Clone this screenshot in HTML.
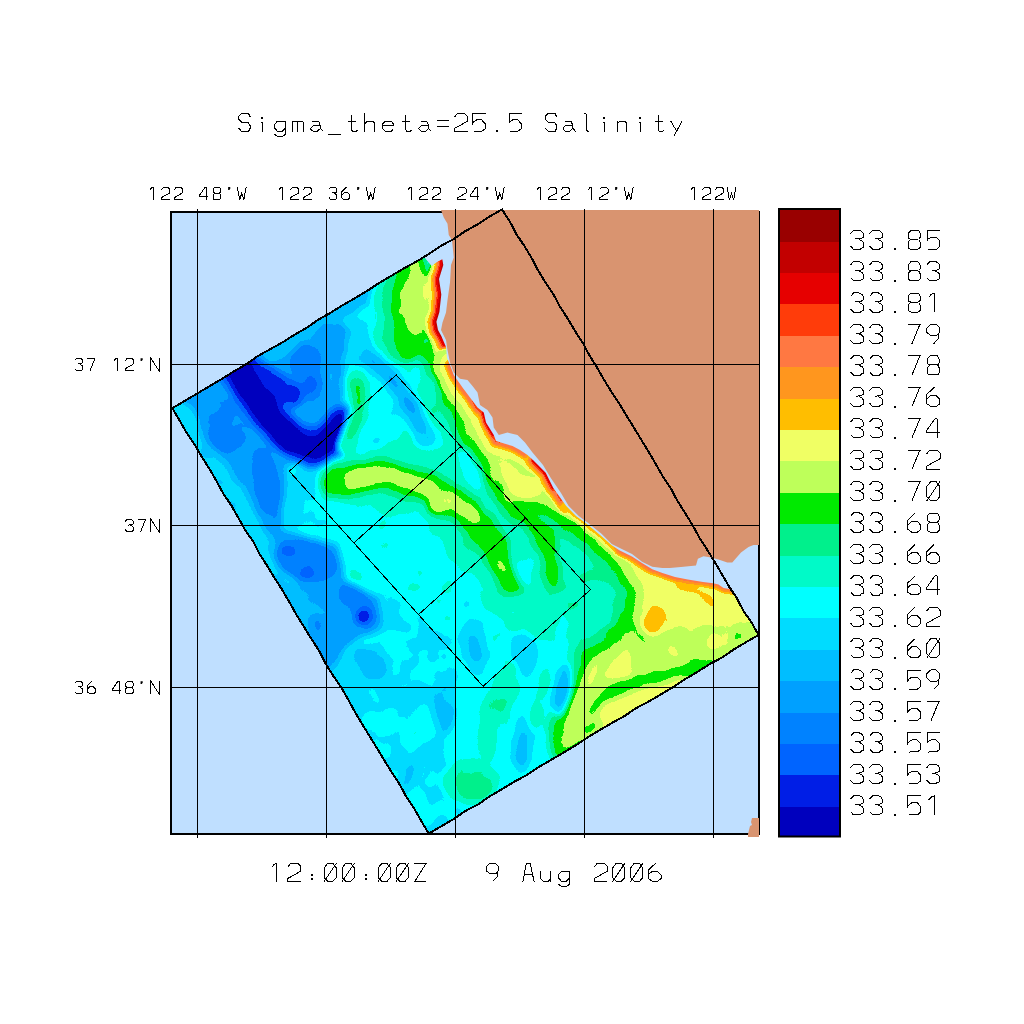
<!DOCTYPE html>
<html><head><meta charset="utf-8"><title>Sigma_theta=25.5 Salinity</title>
<style>html,body{margin:0;padding:0;background:#fff;font-family:"Liberation Sans",sans-serif;}svg{display:block}</style></head>
<body>
<svg width="1024" height="1024" viewBox="0 0 1024 1024" style="display:block">
<rect x="0" y="0" width="1024" height="1024" fill="#fff"/>
<rect x="171" y="212" width="588" height="622" fill="#bfdfff"/>
<defs><clipPath id="cr"><polygon points="172.30,408.20 502.00,209.50 758.50,635.00 428.70,833.60"/></clipPath></defs>
<defs><filter id="b3" filterUnits="userSpaceOnUse" x="150" y="190" width="640" height="670" color-interpolation-filters="sRGB"><feGaussianBlur stdDeviation="3.2"/></filter><filter id="b1" filterUnits="userSpaceOnUse" x="150" y="190" width="640" height="670" color-interpolation-filters="sRGB"><feGaussianBlur stdDeviation="1.6"/></filter><filter id="post" filterUnits="userSpaceOnUse" x="150" y="190" width="640" height="670" color-interpolation-filters="sRGB"><feTurbulence type="fractalNoise" baseFrequency="0.035" numOctaves="2" seed="7" result="n0"/><feColorMatrix in="n0" type="matrix" values="1 0 0 0 0  1 0 0 0 0  1 0 0 0 0  0 0 0 0 1" result="n1"/><feComposite in="SourceGraphic" in2="n1" operator="arithmetic" k1="0" k2="1" k3="0.10" k4="-0.05"/><feComponentTransfer><feFuncR type="discrete" tableValues="0.0000 0.0000 0.0000 0.0000 0.0000 0.0000 0.0000 0.0000 0.0000 0.0000 0.0000 0.7451 0.9412 1.0000 1.0000 1.0000 1.0000 0.9020 0.7608 0.6000"/><feFuncG type="discrete" tableValues="0.0000 0.1176 0.3922 0.5098 0.6275 0.7451 0.8627 1.0000 0.9804 0.9412 0.9176 1.0000 1.0000 0.7451 0.5882 0.4706 0.2353 0.0000 0.0000 0.0000"/><feFuncB type="discrete" tableValues="0.7451 0.9020 1.0000 1.0000 1.0000 1.0000 1.0000 1.0000 0.7843 0.5490 0.0000 0.3529 0.3922 0.0000 0.1176 0.2588 0.0392 0.0000 0.0000 0.0000"/></feComponentTransfer></filter></defs>
<g clip-path="url(#cr)"><g filter="url(#post)">
<g filter="url(#b3)"><rect x="100" y="140" width="740" height="770" fill="rgb(96,96,96)"/>
<polygon points="318,640 400,598 452,640 458,700 440,760 475,840 420,850 290,700" fill="rgb(89,89,89)"/>
<polygon points="150,380 240,350 330,300 348,330 342,400 352,430 322,458 288,466 282,530 338,545 346,583 380,598 382,630 348,642 335,670 300,690 150,430" fill="rgb(57,57,57)"/>
<polyline points="183,418 215,470 250,528 290,595" fill="none" stroke="rgb(79,79,79)" stroke-width="26" stroke-linecap="round" stroke-linejoin="round"/>
<polyline points="176,410 190,425" fill="none" stroke="rgb(87,87,87)" stroke-width="18" stroke-linecap="round" stroke-linejoin="round"/>
<ellipse cx="225" cy="425" rx="24" ry="30" fill="rgb(48,48,48)" transform="rotate(-30 225 425)"/>
<ellipse cx="266" cy="480" rx="14" ry="34" fill="rgb(45,45,45)" transform="rotate(-10 266 480)"/>
<ellipse cx="305" cy="560" rx="32" ry="20" fill="rgb(42,42,42)" transform="rotate(15 305 560)"/>
<ellipse cx="288" cy="551" rx="6" ry="4" fill="rgb(22,22,22)" transform="rotate(0 288 551)"/>
<ellipse cx="307" cy="572" rx="5" ry="4" fill="rgb(24,24,24)" transform="rotate(0 307 572)"/>
<ellipse cx="358" cy="605" rx="13" ry="26" fill="rgb(41,41,41)" transform="rotate(-35 358 605)"/>
<ellipse cx="363" cy="616" rx="6" ry="7" fill="rgb(17,17,17)" transform="rotate(0 363 616)"/>
<ellipse cx="300" cy="615" rx="20" ry="30" fill="rgb(65,65,65)" transform="rotate(-20 300 615)"/>
<ellipse cx="317" cy="623" rx="6" ry="10" fill="rgb(47,47,47)" transform="rotate(0 317 623)"/>
<ellipse cx="303" cy="495" rx="18" ry="30" fill="rgb(85,85,85)" transform="rotate(10 303 495)"/>
<polyline points="250,362 330,313 414,263" fill="none" stroke="rgb(70,70,70)" stroke-width="26" stroke-linecap="round" stroke-linejoin="round"/>
<ellipse cx="325" cy="333" rx="16" ry="10" fill="rgb(57,57,57)" transform="rotate(-30 325 333)"/>
<ellipse cx="308" cy="372" rx="16" ry="30" fill="rgb(45,45,45)" transform="rotate(-10 308 372)"/>
<ellipse cx="310" cy="385" rx="8" ry="8" fill="rgb(32,32,32)" transform="rotate(0 310 385)"/>
<polyline points="236,362 243,377 258,400 273,420 290,437 312,448 331,440 344,425" fill="none" stroke="rgb(32,32,32)" stroke-width="40" stroke-linecap="round" stroke-linejoin="round"/>
<polyline points="254,372 290,395" fill="none" stroke="rgb(23,23,23)" stroke-width="28" stroke-linecap="round" stroke-linejoin="round"/>
<polyline points="236,362 243,377 258,400 273,420 290,437 312,448 331,440 344,425" fill="none" stroke="rgb(14,14,14)" stroke-width="29" stroke-linecap="round" stroke-linejoin="round"/>
<polyline points="236,362 243,377 258,400 273,420 290,437" fill="none" stroke="rgb(0,0,0)" stroke-width="21" stroke-linecap="round" stroke-linejoin="round"/>
<polyline points="273,420 290,437 312,448 331,440 344,425" fill="none" stroke="rgb(0,0,0)" stroke-width="17" stroke-linecap="round" stroke-linejoin="round"/>
<ellipse cx="360" cy="340" rx="14" ry="24" fill="rgb(83,83,83)" transform="rotate(0 360 340)"/>
<ellipse cx="385" cy="318" rx="9" ry="38" fill="rgb(111,111,111)" transform="rotate(10 385 318)"/>
<polyline points="356,378 360,400 354,425 346,446" fill="none" stroke="rgb(116,116,116)" stroke-width="18" stroke-linecap="round" stroke-linejoin="round"/>
<polyline points="358,385 359,405" fill="none" stroke="rgb(134,134,134)" stroke-width="8" stroke-linecap="round" stroke-linejoin="round"/>
<ellipse cx="404" cy="305" rx="34" ry="64" fill="rgb(103,103,103)" transform="rotate(8 404 305)"/>
<ellipse cx="408" cy="305" rx="27" ry="58" fill="rgb(119,119,119)" transform="rotate(5 408 305)"/>
<ellipse cx="412" cy="307" rx="19" ry="52" fill="rgb(138,138,138)" transform="rotate(3 412 307)"/>
<ellipse cx="415" cy="303" rx="13" ry="33" fill="rgb(149,149,149)" transform="rotate(3 415 303)"/>
<ellipse cx="427" cy="290" rx="4" ry="14" fill="rgb(162,162,162)" transform="rotate(0 427 290)"/>
<polygon points="430,350 470,440 520,520 560,600 560,640 520,640 470,590 430,520 330,500 330,460 400,440" fill="rgb(108,108,108)"/>
<polyline points="369,357 394,382 412,408 424,436" fill="none" stroke="rgb(80,80,80)" stroke-width="22" stroke-linecap="round" stroke-linejoin="round"/>
<polyline points="372,360 394,382 412,408 420,428" fill="none" stroke="rgb(61,61,61)" stroke-width="9" stroke-linecap="round" stroke-linejoin="round"/>
<polyline points="336,482 380,476 430,488 460,508 488,536 503,557 513,578" fill="none" stroke="rgb(124,124,124)" stroke-width="36" stroke-linecap="round" stroke-linejoin="round"/>
<polyline points="336,482 380,476 430,488 460,508 488,536 503,557 513,578" fill="none" stroke="rgb(136,136,136)" stroke-width="24" stroke-linecap="round" stroke-linejoin="round"/>
<polyline points="354,478 395,476 428,488" fill="none" stroke="rgb(149,149,149)" stroke-width="15" stroke-linecap="round" stroke-linejoin="round"/>
<polyline points="420,486 448,500 474,515" fill="none" stroke="rgb(149,149,149)" stroke-width="10" stroke-linecap="round" stroke-linejoin="round"/>
<ellipse cx="437" cy="506" rx="10" ry="9" fill="rgb(149,149,149)" transform="rotate(0 437 506)"/>
<polyline points="430,349 441,372 454,398 469,438 485,462 500,484 518,512 538,528 552,560 556,578" fill="none" stroke="rgb(124,124,124)" stroke-width="28" stroke-linecap="round" stroke-linejoin="round"/>
<polyline points="430,349 441,372 454,398 469,438 485,462 500,484 518,512 538,528 552,560 556,578" fill="none" stroke="rgb(136,136,136)" stroke-width="13" stroke-linecap="round" stroke-linejoin="round"/>
<polyline points="538,512 552,545 555,570" fill="none" stroke="rgb(138,138,138)" stroke-width="16" stroke-linecap="round" stroke-linejoin="round"/>
<ellipse cx="568" cy="600" rx="7" ry="7" fill="rgb(136,136,136)" transform="rotate(0 568 600)"/>
<ellipse cx="470" cy="470" rx="9" ry="22" fill="rgb(98,98,98)" transform="rotate(-25 470 470)"/>
<ellipse cx="520" cy="565" rx="8" ry="25" fill="rgb(101,101,101)" transform="rotate(-20 520 565)"/>
<ellipse cx="585" cy="640" rx="30" ry="40" fill="rgb(98,98,98)" transform="rotate(0 585 640)"/>
<polygon points="555,526 590,545 615,575 632,600 628,632 600,650 585,676 570,700 560,740 545,730 560,680 575,640 560,600" fill="rgb(112,112,112)"/>
<polyline points="530,500 541.6,509 560,519 576.7,528.8 592,543 606,558 618,574 627.5,589.4 633.4,607 627,628 607,643 591,653 584,671 576,686 566,704 560,735 563,752" fill="none" stroke="rgb(124,124,124)" stroke-width="24" stroke-linecap="round" stroke-linejoin="round"/>
<ellipse cx="603" cy="610" rx="8" ry="16" fill="rgb(103,103,103)" transform="rotate(0 603 610)"/>
<polygon points="452,388 457,398 475,438 501,477 522,498 541.6,509 560,519 576.7,528.8 592,543 606,558 618,574 627.5,589.4 633.4,607 627,628 607,643 591,653 584,671 576,686 566,704 560,735 563,752 700,700 780,640 780,560 600,500 520,420" fill="rgb(147,147,147)"/>
<polyline points="530,500 541.6,509 560,519 576.7,528.8 592,543 606,558 618,574 627.5,589.4 633.4,607 627,628 607,643 591,653 584,671 576,686 566,704 560,735 563,752" fill="none" stroke="rgb(134,134,134)" stroke-width="8" stroke-linecap="round" stroke-linejoin="round"/>
<polygon points="548,470 590,512 630,548 655,570 700,580 760,590 760,624 741,622 716,625 678,628 648,638 646,606 641,586 632,566 618,553 600,538 580,520 540,484" fill="rgb(159,159,159)"/>
<ellipse cx="522" cy="478" rx="18" ry="24" fill="rgb(159,159,159)" transform="rotate(-35 522 478)"/>
<ellipse cx="652" cy="622" rx="10" ry="13" fill="rgb(175,175,175)" transform="rotate(25 652 622)"/>
<polyline points="680,584 695,590 710,600" fill="none" stroke="rgb(175,175,175)" stroke-width="8" stroke-linecap="round" stroke-linejoin="round"/>
<polygon points="627,645 632,675 601,679" fill="rgb(163,163,163)"/>
<ellipse cx="713" cy="639" rx="5" ry="9" fill="rgb(159,159,159)" transform="rotate(0 713 639)"/>
<ellipse cx="736" cy="636" rx="5" ry="6" fill="rgb(134,134,134)" transform="rotate(0 736 636)"/>
<polyline points="712,666 680,672 642,681 612,691 597,705" fill="none" stroke="rgb(134,134,134)" stroke-width="11" stroke-linecap="round" stroke-linejoin="round"/>
<polygon points="600,708 640,690 680,680 690,690 600,740" fill="rgb(159,159,159)"/>
<ellipse cx="475" cy="646" rx="14" ry="28" fill="rgb(83,83,83)" transform="rotate(-10 475 646)"/>
<ellipse cx="475" cy="650" rx="6" ry="14" fill="rgb(70,70,70)" transform="rotate(-10 475 650)"/>
<ellipse cx="523" cy="652" rx="14" ry="22" fill="rgb(83,83,83)" transform="rotate(0 523 652)"/>
<ellipse cx="370" cy="662" rx="20" ry="16" fill="rgb(73,73,73)" transform="rotate(20 370 662)"/>
<ellipse cx="444" cy="708" rx="11" ry="26" fill="rgb(73,73,73)" transform="rotate(0 444 708)"/>
<ellipse cx="449" cy="712" rx="4" ry="8" fill="rgb(60,60,60)" transform="rotate(0 449 712)"/>
<ellipse cx="410" cy="774" rx="7" ry="18" fill="rgb(74,74,74)" transform="rotate(20 410 774)"/>
<ellipse cx="470" cy="782" rx="28" ry="22" fill="rgb(113,113,113)" transform="rotate(0 470 782)"/>
<ellipse cx="476" cy="788" rx="18" ry="11" fill="rgb(124,124,124)" transform="rotate(0 476 788)"/>
<ellipse cx="488" cy="730" rx="10" ry="32" fill="rgb(111,111,111)" transform="rotate(0 488 730)"/>
<ellipse cx="505" cy="690" rx="12" ry="30" fill="rgb(108,108,108)" transform="rotate(15 505 690)"/>
<ellipse cx="540" cy="700" rx="8" ry="30" fill="rgb(106,106,106)" transform="rotate(10 540 700)"/>
<ellipse cx="522" cy="746" rx="9" ry="28" fill="rgb(78,78,78)" transform="rotate(0 522 746)"/>
<ellipse cx="522" cy="748" rx="4" ry="14" fill="rgb(68,68,68)" transform="rotate(0 522 748)"/>
<ellipse cx="562" cy="690" rx="9" ry="26" fill="rgb(75,75,75)" transform="rotate(10 562 690)"/>
<ellipse cx="563" cy="692" rx="4" ry="14" fill="rgb(62,62,62)" transform="rotate(10 563 692)"/>
<ellipse cx="350" cy="690" rx="20" ry="30" fill="rgb(83,83,83)" transform="rotate(0 350 690)"/>
<ellipse cx="395" cy="650" rx="10" ry="8" fill="rgb(96,96,96)" transform="rotate(0 395 650)"/>
<ellipse cx="420" cy="720" rx="8" ry="18" fill="rgb(96,96,96)" transform="rotate(20 420 720)"/>
<ellipse cx="372" cy="720" rx="10" ry="8" fill="rgb(96,96,96)" transform="rotate(0 372 720)"/>
</g>
<g filter="url(#b1)">
<polyline points="442.3,259.3 443.3,265 439,279 441.3,294.5 439.4,312 436.4,321.8 438,330 441.3,336 446,347 447,358 450,365" fill="none" stroke="rgb(159,159,159)" stroke-width="24" stroke-linecap="round" stroke-linejoin="round"/>
<polyline points="442.3,259.3 443.3,265 439,279 441.3,294.5 439.4,312 436.4,321.8 438,330 441.3,336 446,347 447,358 450,365" fill="none" stroke="rgb(178,178,178)" stroke-width="16" stroke-linecap="round" stroke-linejoin="round"/>
<polyline points="442.3,259.3 443.3,265 439,279 441.3,294.5 439.4,312 436.4,321.8 438,330 441.3,336 446,347 447,358 450,365" fill="none" stroke="rgb(204,204,204)" stroke-width="11" stroke-linecap="round" stroke-linejoin="round"/>
<polyline points="442.3,259.3 443.3,265 439,279 441.3,294.5 439.4,312 436.4,321.8 438,330 441.3,336 446,347 447,358 450,365" fill="none" stroke="rgb(233,233,233)" stroke-width="6" stroke-linecap="round" stroke-linejoin="round"/>
<polyline points="450,365 453.75,375 462.5,387.5 470,397.5 477.5,407.5 483.75,412.5 486,422.5 493.75,435 496,441 505,443.75 512.5,446 520,450 527.5,455 533,460" fill="none" stroke="rgb(147,147,147)" stroke-width="36" stroke-linecap="round" stroke-linejoin="round"/>
<polyline points="450,365 453.75,375 462.5,387.5 470,397.5 477.5,407.5 483.75,412.5 486,422.5 493.75,435 496,441 505,443.75 512.5,446 520,450 527.5,455 533,460" fill="none" stroke="rgb(159,159,159)" stroke-width="24" stroke-linecap="round" stroke-linejoin="round"/>
<polyline points="450,365 453.75,375 462.5,387.5 470,397.5 477.5,407.5 483.75,412.5 486,422.5 493.75,435 496,441 505,443.75 512.5,446 520,450 527.5,455 533,460" fill="none" stroke="rgb(178,178,178)" stroke-width="12" stroke-linecap="round" stroke-linejoin="round"/>
<polyline points="450,365 453.75,375 462.5,387.5 470,397.5 477.5,407.5 483.75,412.5 486,422.5 493.75,435 496,441 505,443.75 512.5,446 520,450 527.5,455 533,460" fill="none" stroke="rgb(204,204,204)" stroke-width="7" stroke-linecap="round" stroke-linejoin="round"/>
<polyline points="483.75,412.5 486,422.5 493.75,435" fill="none" stroke="rgb(230,230,230)" stroke-width="4" stroke-linecap="round" stroke-linejoin="round"/>
<polyline points="533,460 545.7,472.8 553.3,488 566,505.8" fill="none" stroke="rgb(178,178,178)" stroke-width="16" stroke-linecap="round" stroke-linejoin="round"/>
<polyline points="533,460 545.7,472.8 553.3,488 566,505.8" fill="none" stroke="rgb(204,204,204)" stroke-width="8" stroke-linecap="round" stroke-linejoin="round"/>
<polyline points="533,460 545.7,472.8 553.3,488" fill="none" stroke="rgb(230,230,230)" stroke-width="4" stroke-linecap="round" stroke-linejoin="round"/>
<polyline points="566,505.8 576,516 586.3,523.6 601.5,536.3 611.7,545.2 619.3,550.25" fill="none" stroke="rgb(163,163,163)" stroke-width="9" stroke-linecap="round" stroke-linejoin="round"/>
<polyline points="566,505.8 576,516 586.3,523.6 601.5,536.3 611.7,545.2 619.3,550.25" fill="none" stroke="rgb(180,180,180)" stroke-width="3" stroke-linecap="round" stroke-linejoin="round"/>
<polyline points="619.3,550.25 632,556.6 642,563 652.3,569.3 662.4,573 675,577 687.8,579.4 703,582 713.2,583.25 718.5,584.4 723.5,588.1 735,590" fill="none" stroke="rgb(180,180,180)" stroke-width="10" stroke-linecap="round" stroke-linejoin="round"/>
<polyline points="619.3,550.25 632,556.6 642,563 652.3,569.3 662.4,573 675,577 687.8,579.4 703,582 713.2,583.25 718.5,584.4 723.5,588.1 735,590" fill="none" stroke="rgb(198,198,198)" stroke-width="5" stroke-linecap="round" stroke-linejoin="round"/>
</g>
</g></g>
<g clip-path="url(#cr)"><polygon points="425.00,258.00 431.60,266.00 437.00,262.00 442.30,259.30 443.30,265.00 439.00,279.00 441.30,294.50 439.40,312.00 436.40,321.80 438.00,330.00 441.30,336.00 446.00,347.00 447.00,358.00 450.00,365.00 453.75,375.00 462.50,387.50 470.00,397.50 477.50,407.50 483.75,412.50 486.00,422.50 493.75,435.00 496.00,441.00 505.00,443.75 512.50,446.00 520.00,450.00 527.50,455.00 533.00,460.00 545.70,472.80 553.30,488.00 566.00,505.80 576.00,516.00 586.30,523.60 601.50,536.30 611.70,545.20 619.30,550.25 632.00,556.60 642.00,563.00 652.30,569.30 662.40,573.00 675.00,577.00 687.80,579.40 703.00,582.00 713.20,583.25 718.50,584.40 723.50,588.10 735.00,590.00 770.00,560.00 770.00,200.00 425.00,200.00" fill="#bfdfff"/></g>
<polygon points="172.30,408.20 184.58,400.96 196.86,393.71 209.10,386.40 221.40,379.18 233.49,371.63 245.81,364.44 257.51,356.24 269.97,349.29 282.45,342.38 294.50,334.75 306.85,327.63 318.61,319.52 331.03,312.50 343.11,304.93 355.49,297.85 367.72,290.52 379.61,282.63 391.94,275.47 404.19,268.17 416.76,261.41 428.88,253.91 440.75,245.98 453.32,239.22 465.16,231.24 477.64,224.33 489.58,216.51 502.00,209.50 509.80,221.37 516.31,234.03 524.26,245.81 531.58,257.97 538.19,270.56 545.62,282.65 553.50,294.48 560.19,307.02 567.92,318.94 575.12,331.17 582.89,343.06 589.53,355.64 597.09,367.65 604.16,379.96 611.56,392.08 619.45,403.90 626.72,416.09 634.23,428.14 641.58,440.28 648.98,452.40 656.09,464.69 663.13,477.02 671.02,488.83 677.72,501.37 685.37,513.34 692.72,525.48 699.57,537.92 707.22,549.89 714.70,561.95 721.87,574.20 728.99,586.49 736.93,598.28 743.40,610.96 751.62,622.57 758.50,635.00 746.14,642.12 733.87,649.39 722.13,657.52 709.48,664.15 697.50,671.90 685.17,679.06 673.27,686.95 661.04,694.27 648.75,701.50 636.09,708.13 624.31,716.20 611.78,723.03 599.46,730.22 587.24,737.56 575.37,745.48 563.15,752.83 550.83,760.02 538.48,767.14 526.64,775.12 514.06,781.88 501.82,789.19 489.57,796.48 477.82,804.61 465.09,811.11 453.36,819.27 441.01,826.39 428.70,833.60 421.48,821.38 414.44,809.05 406.57,797.23 399.80,784.74 392.11,772.80 384.57,760.78 377.25,748.62 369.79,736.55 362.37,724.45 355.11,712.26 348.30,699.80 341.26,687.47 333.15,675.79 325.71,663.70 319.27,651.01 311.52,639.11 304.07,627.03 296.59,614.97 289.60,602.62 282.49,590.33 274.82,578.39 267.46,566.25 259.79,554.30 253.27,541.66 245.12,530.01 238.23,517.59 231.22,505.24 223.23,493.49 216.47,480.99 209.35,468.72 201.73,456.74 194.55,444.50 186.58,432.73 179.56,420.39" fill="none" stroke="#000" stroke-width="2" stroke-linejoin="miter" shape-rendering="crispEdges"/>
<rect x="171" y="212" width="588" height="622" fill="none" stroke="#000" stroke-width="2"/>
<polygon points="441.00,210.00 443.75,217.50 447.50,223.75 448.75,235.00 452.00,240.00 453.75,257.50 451.00,265.00 450.00,282.50 447.50,300.00 446.00,312.50 442.50,322.50 441.00,330.00 446.00,340.00 447.50,350.00 450.00,362.50 453.75,372.50 460.00,378.75 467.50,380.00 472.50,386.00 477.50,392.50 480.00,405.00 487.50,410.00 492.50,417.50 493.75,427.50 498.75,435.00 507.50,432.50 517.50,435.00 525.00,442.50 532.50,452.50 543.00,465.00 550.80,478.00 561.00,493.00 568.50,505.80 578.70,516.00 588.80,523.60 601.50,533.75 611.70,544.00 621.80,549.00 632.00,554.00 642.00,561.70 652.30,566.75 662.40,568.00 669.75,568.10 681.00,566.90 696.00,565.60 697.90,558.75 703.50,556.25 711.00,557.50 718.50,559.40 727.25,562.50 732.25,562.50 741.00,552.50 748.50,546.90 753.50,545.00 759.00,545.00 759.00,210.00" fill="#d99470"/>
<polygon points="748.00,837.00 759.00,837.00 759.00,818.00 752.00,818.00 751.00,822.00 752.00,825.00 750.00,826.00 749.00,830.00 748.00,834.00" fill="#d99470"/>
<defs><clipPath id="cl"><polygon points="441.00,210.00 443.75,217.50 447.50,223.75 448.75,235.00 452.00,240.00 453.75,257.50 451.00,265.00 450.00,282.50 447.50,300.00 446.00,312.50 442.50,322.50 441.00,330.00 446.00,340.00 447.50,350.00 450.00,362.50 453.75,372.50 460.00,378.75 467.50,380.00 472.50,386.00 477.50,392.50 480.00,405.00 487.50,410.00 492.50,417.50 493.75,427.50 498.75,435.00 507.50,432.50 517.50,435.00 525.00,442.50 532.50,452.50 543.00,465.00 550.80,478.00 561.00,493.00 568.50,505.80 578.70,516.00 588.80,523.60 601.50,533.75 611.70,544.00 621.80,549.00 632.00,554.00 642.00,561.70 652.30,566.75 662.40,568.00 669.75,568.10 681.00,566.90 696.00,565.60 697.90,558.75 703.50,556.25 711.00,557.50 718.50,559.40 727.25,562.50 732.25,562.50 741.00,552.50 748.50,546.90 753.50,545.00 759.00,545.00 759.00,210.00"/></clipPath></defs>
<g clip-path="url(#cl)"><polygon points="172.30,408.20 184.58,400.96 196.86,393.71 209.10,386.40 221.40,379.18 233.49,371.63 245.81,364.44 257.51,356.24 269.97,349.29 282.45,342.38 294.50,334.75 306.85,327.63 318.61,319.52 331.03,312.50 343.11,304.93 355.49,297.85 367.72,290.52 379.61,282.63 391.94,275.47 404.19,268.17 416.76,261.41 428.88,253.91 440.75,245.98 453.32,239.22 465.16,231.24 477.64,224.33 489.58,216.51 502.00,209.50 509.80,221.37 516.31,234.03 524.26,245.81 531.58,257.97 538.19,270.56 545.62,282.65 553.50,294.48 560.19,307.02 567.92,318.94 575.12,331.17 582.89,343.06 589.53,355.64 597.09,367.65 604.16,379.96 611.56,392.08 619.45,403.90 626.72,416.09 634.23,428.14 641.58,440.28 648.98,452.40 656.09,464.69 663.13,477.02 671.02,488.83 677.72,501.37 685.37,513.34 692.72,525.48 699.57,537.92 707.22,549.89 714.70,561.95 721.87,574.20 728.99,586.49 736.93,598.28 743.40,610.96 751.62,622.57 758.50,635.00 746.14,642.12 733.87,649.39 722.13,657.52 709.48,664.15 697.50,671.90 685.17,679.06 673.27,686.95 661.04,694.27 648.75,701.50 636.09,708.13 624.31,716.20 611.78,723.03 599.46,730.22 587.24,737.56 575.37,745.48 563.15,752.83 550.83,760.02 538.48,767.14 526.64,775.12 514.06,781.88 501.82,789.19 489.57,796.48 477.82,804.61 465.09,811.11 453.36,819.27 441.01,826.39 428.70,833.60 421.48,821.38 414.44,809.05 406.57,797.23 399.80,784.74 392.11,772.80 384.57,760.78 377.25,748.62 369.79,736.55 362.37,724.45 355.11,712.26 348.30,699.80 341.26,687.47 333.15,675.79 325.71,663.70 319.27,651.01 311.52,639.11 304.07,627.03 296.59,614.97 289.60,602.62 282.49,590.33 274.82,578.39 267.46,566.25 259.79,554.30 253.27,541.66 245.12,530.01 238.23,517.59 231.22,505.24 223.23,493.49 216.47,480.99 209.35,468.72 201.73,456.74 194.55,444.50 186.58,432.73 179.56,420.39" fill="none" stroke="#000" stroke-width="2" shape-rendering="crispEdges"/></g>
<polygon points="289.30,471.20 396.20,374.90 590.40,589.70 483.10,686.30" fill="none" stroke="#000" stroke-width="1" shape-rendering="crispEdges"/>
<line x1="353.90" y1="542.90" x2="460.93" y2="446.50" stroke="#000" stroke-width="1" shape-rendering="crispEdges"/>
<line x1="418.50" y1="614.60" x2="525.67" y2="518.10" stroke="#000" stroke-width="1" shape-rendering="crispEdges"/>
<path d="M197.5 209 V838 M326.5 209 V838 M455.5 209 V838 M584.5 209 V838 M713.5 209 V838 M171 364.5 H759 M171 525.5 H759 M171 687.5 H759" stroke="#000" stroke-width="1" fill="none" shape-rendering="crispEdges"/>
<rect x="779" y="210.20" width="61" height="32.40" fill="rgb(153,0,0)" shape-rendering="crispEdges"/>
<rect x="779" y="241.60" width="61" height="32.40" fill="rgb(194,0,0)" shape-rendering="crispEdges"/>
<rect x="779" y="273.00" width="61" height="32.40" fill="rgb(230,0,0)" shape-rendering="crispEdges"/>
<rect x="779" y="304.40" width="61" height="32.40" fill="rgb(255,60,10)" shape-rendering="crispEdges"/>
<rect x="779" y="335.80" width="61" height="32.40" fill="rgb(255,120,66)" shape-rendering="crispEdges"/>
<rect x="779" y="367.20" width="61" height="32.40" fill="rgb(255,150,30)" shape-rendering="crispEdges"/>
<rect x="779" y="398.60" width="61" height="32.40" fill="rgb(255,190,0)" shape-rendering="crispEdges"/>
<rect x="779" y="430.00" width="61" height="32.40" fill="rgb(240,255,100)" shape-rendering="crispEdges"/>
<rect x="779" y="461.40" width="61" height="32.40" fill="rgb(190,255,90)" shape-rendering="crispEdges"/>
<rect x="779" y="492.80" width="61" height="32.40" fill="rgb(0,234,0)" shape-rendering="crispEdges"/>
<rect x="779" y="524.20" width="61" height="32.40" fill="rgb(0,240,140)" shape-rendering="crispEdges"/>
<rect x="779" y="555.60" width="61" height="32.40" fill="rgb(0,250,200)" shape-rendering="crispEdges"/>
<rect x="779" y="587.00" width="61" height="32.40" fill="rgb(0,255,255)" shape-rendering="crispEdges"/>
<rect x="779" y="618.40" width="61" height="32.40" fill="rgb(0,220,255)" shape-rendering="crispEdges"/>
<rect x="779" y="649.80" width="61" height="32.40" fill="rgb(0,190,255)" shape-rendering="crispEdges"/>
<rect x="779" y="681.20" width="61" height="32.40" fill="rgb(0,160,255)" shape-rendering="crispEdges"/>
<rect x="779" y="712.60" width="61" height="32.40" fill="rgb(0,130,255)" shape-rendering="crispEdges"/>
<rect x="779" y="744.00" width="61" height="32.40" fill="rgb(0,100,255)" shape-rendering="crispEdges"/>
<rect x="779" y="775.40" width="61" height="32.40" fill="rgb(0,30,230)" shape-rendering="crispEdges"/>
<rect x="779" y="806.80" width="61" height="29.70" fill="rgb(0,0,190)" shape-rendering="crispEdges"/>
<rect x="779" y="209" width="61" height="627.5" fill="none" stroke="#000" stroke-width="2"/>
<rect x="894" y="248" width="2" height="2" fill="#000" shape-rendering="crispEdges"/>
<path d="M850.50 233.60 L853.60 230.10 L859.25 230.10 L861.75 231.40 L863.00 233.25 L863.00 237.30 L860.50 238.80 L855.50 239.00 M859.00 239.00 L859.60 239.80 L862.10 241.10 L863.00 242.30 L863.00 247.60 L860.50 248.75 L860.20 249.40 L853.60 249.40 L850.50 246.10 M869.56 233.60 L872.66 230.10 L878.31 230.10 L880.81 231.40 L882.06 233.25 L882.06 237.30 L879.56 238.80 L874.56 239.00 M878.06 239.00 L878.66 239.80 L881.16 241.10 L882.06 242.30 L882.06 247.60 L879.56 248.75 L879.26 249.40 L872.66 249.40 L869.56 246.10 M910.98 230.25 L918.48 230.25 M910.98 230.25 L908.18 233.40 L908.18 237.40 L908.48 238.10 L910.68 239.30 L918.48 239.30 M918.48 230.25 L920.08 233.40 L920.08 237.40 L918.78 239.00 M910.68 239.30 L908.18 242.10 L908.18 247.40 L908.48 248.10 L910.98 249.30 L918.48 249.30 M918.78 239.60 L920.08 242.10 L920.08 247.40 L918.48 249.30 M940.49 230.20 L927.04 230.20 L927.04 240.60 L928.14 239.00 L930.94 237.25 L936.24 237.25 L939.99 241.20 L939.99 246.50 L938.74 247.40 L936.54 249.20 L927.84 249.30" fill="none" stroke="#000" stroke-width="1.00" stroke-linecap="butt" stroke-linejoin="miter" shape-rendering="crispEdges"/>
<rect x="894" y="280" width="2" height="2" fill="#000" shape-rendering="crispEdges"/>
<path d="M850.50 265.02 L853.60 261.52 L859.25 261.52 L861.75 262.82 L863.00 264.67 L863.00 268.72 L860.50 270.22 L855.50 270.42 M859.00 270.42 L859.60 271.22 L862.10 272.52 L863.00 273.72 L863.00 279.02 L860.50 280.17 L860.20 280.82 L853.60 280.82 L850.50 277.52 M869.56 265.02 L872.66 261.52 L878.31 261.52 L880.81 262.82 L882.06 264.67 L882.06 268.72 L879.56 270.22 L874.56 270.42 M878.06 270.42 L878.66 271.22 L881.16 272.52 L882.06 273.72 L882.06 279.02 L879.56 280.17 L879.26 280.82 L872.66 280.82 L869.56 277.52 M910.98 261.67 L918.48 261.67 M910.98 261.67 L908.18 264.82 L908.18 268.82 L908.48 269.52 L910.68 270.72 L918.48 270.72 M918.48 261.67 L920.08 264.82 L920.08 268.82 L918.78 270.42 M910.68 270.72 L908.18 273.52 L908.18 278.82 L908.48 279.52 L910.98 280.72 L918.48 280.72 M918.78 271.02 L920.08 273.52 L920.08 278.82 L918.48 280.72 M926.74 265.02 L929.84 261.52 L935.49 261.52 L937.99 262.82 L939.24 264.67 L939.24 268.72 L936.74 270.22 L931.74 270.42 M935.24 270.42 L935.84 271.22 L938.34 272.52 L939.24 273.72 L939.24 279.02 L936.74 280.17 L936.44 280.82 L929.84 280.82 L926.74 277.52" fill="none" stroke="#000" stroke-width="1.00" stroke-linecap="butt" stroke-linejoin="miter" shape-rendering="crispEdges"/>
<rect x="894" y="311" width="2" height="2" fill="#000" shape-rendering="crispEdges"/>
<path d="M850.50 296.44 L853.60 292.94 L859.25 292.94 L861.75 294.24 L863.00 296.09 L863.00 300.14 L860.50 301.64 L855.50 301.84 M859.00 301.84 L859.60 302.64 L862.10 303.94 L863.00 305.14 L863.00 310.44 L860.50 311.59 L860.20 312.24 L853.60 312.24 L850.50 308.94 M869.56 296.44 L872.66 292.94 L878.31 292.94 L880.81 294.24 L882.06 296.09 L882.06 300.14 L879.56 301.64 L874.56 301.84 M878.06 301.84 L878.66 302.64 L881.16 303.94 L882.06 305.14 L882.06 310.44 L879.56 311.59 L879.26 312.24 L872.66 312.24 L869.56 308.94 M910.98 293.09 L918.48 293.09 M910.98 293.09 L908.18 296.24 L908.18 300.24 L908.48 300.94 L910.68 302.14 L918.48 302.14 M918.48 293.09 L920.08 296.24 L920.08 300.24 L918.78 301.84 M910.68 302.14 L908.18 304.94 L908.18 310.24 L908.48 310.94 L910.98 312.14 L918.48 312.14 M918.78 302.44 L920.08 304.94 L920.08 310.24 L918.48 312.14 M934.04 312.34 L934.04 292.74 M934.04 293.44 L931.44 294.14 L928.64 297.24" fill="none" stroke="#000" stroke-width="1.00" stroke-linecap="butt" stroke-linejoin="miter" shape-rendering="crispEdges"/>
<rect x="894" y="343" width="2" height="2" fill="#000" shape-rendering="crispEdges"/>
<path d="M850.50 327.86 L853.60 324.36 L859.25 324.36 L861.75 325.66 L863.00 327.51 L863.00 331.56 L860.50 333.06 L855.50 333.26 M859.00 333.26 L859.60 334.06 L862.10 335.36 L863.00 336.56 L863.00 341.86 L860.50 343.01 L860.20 343.66 L853.60 343.66 L850.50 340.36 M869.56 327.86 L872.66 324.36 L878.31 324.36 L880.81 325.66 L882.06 327.51 L882.06 331.56 L879.56 333.06 L874.56 333.26 M878.06 333.26 L878.66 334.06 L881.16 335.36 L882.06 336.56 L882.06 341.86 L879.56 343.01 L879.26 343.66 L872.66 343.66 L869.56 340.36 M907.68 324.36 L920.58 324.36 M919.78 324.66 L911.93 343.76 M930.74 324.26 L936.14 324.26 L939.84 328.06 L939.84 332.26 L936.44 335.76 L930.74 335.76 L926.74 332.26 L926.74 328.06 L930.74 324.26 M938.94 333.06 L938.94 337.76 L938.34 338.76 L933.64 343.76" fill="none" stroke="#000" stroke-width="1.00" stroke-linecap="butt" stroke-linejoin="miter" shape-rendering="crispEdges"/>
<rect x="894" y="374" width="2" height="2" fill="#000" shape-rendering="crispEdges"/>
<path d="M850.50 359.28 L853.60 355.78 L859.25 355.78 L861.75 357.08 L863.00 358.93 L863.00 362.98 L860.50 364.48 L855.50 364.68 M859.00 364.68 L859.60 365.48 L862.10 366.78 L863.00 367.98 L863.00 373.28 L860.50 374.43 L860.20 375.08 L853.60 375.08 L850.50 371.78 M869.56 359.28 L872.66 355.78 L878.31 355.78 L880.81 357.08 L882.06 358.93 L882.06 362.98 L879.56 364.48 L874.56 364.68 M878.06 364.68 L878.66 365.48 L881.16 366.78 L882.06 367.98 L882.06 373.28 L879.56 374.43 L879.26 375.08 L872.66 375.08 L869.56 371.78 M907.68 355.78 L920.58 355.78 M919.78 356.08 L911.93 375.18 M930.04 355.93 L937.54 355.93 M930.04 355.93 L927.24 359.08 L927.24 363.08 L927.54 363.78 L929.74 364.98 L937.54 364.98 M937.54 355.93 L939.14 359.08 L939.14 363.08 L937.84 364.68 M929.74 364.98 L927.24 367.78 L927.24 373.08 L927.54 373.78 L930.04 374.98 L937.54 374.98 M937.84 365.28 L939.14 367.78 L939.14 373.08 L937.54 374.98" fill="none" stroke="#000" stroke-width="1.00" stroke-linecap="butt" stroke-linejoin="miter" shape-rendering="crispEdges"/>
<rect x="894" y="406" width="2" height="2" fill="#000" shape-rendering="crispEdges"/>
<path d="M850.50 390.70 L853.60 387.20 L859.25 387.20 L861.75 388.50 L863.00 390.35 L863.00 394.40 L860.50 395.90 L855.50 396.10 M859.00 396.10 L859.60 396.90 L862.10 398.20 L863.00 399.40 L863.00 404.70 L860.50 405.85 L860.20 406.50 L853.60 406.50 L850.50 403.20 M869.56 390.70 L872.66 387.20 L878.31 387.20 L880.81 388.50 L882.06 390.35 L882.06 394.40 L879.56 395.90 L874.56 396.10 M878.06 396.10 L878.66 396.90 L881.16 398.20 L882.06 399.40 L882.06 404.70 L879.56 405.85 L879.26 406.50 L872.66 406.50 L869.56 403.20 M907.68 387.20 L920.58 387.20 M919.78 387.50 L911.93 406.60 M934.24 387.20 L926.74 394.50 L926.74 403.60 L930.74 406.40 L936.49 406.40 L939.94 403.60 L939.94 399.60 L936.14 395.60 L930.74 395.60 L926.74 399.30" fill="none" stroke="#000" stroke-width="1.00" stroke-linecap="butt" stroke-linejoin="miter" shape-rendering="crispEdges"/>
<rect x="894" y="437" width="2" height="2" fill="#000" shape-rendering="crispEdges"/>
<path d="M850.50 422.12 L853.60 418.62 L859.25 418.62 L861.75 419.92 L863.00 421.77 L863.00 425.82 L860.50 427.32 L855.50 427.52 M859.00 427.52 L859.60 428.32 L862.10 429.62 L863.00 430.82 L863.00 436.12 L860.50 437.27 L860.20 437.92 L853.60 437.92 L850.50 434.62 M869.56 422.12 L872.66 418.62 L878.31 418.62 L880.81 419.92 L882.06 421.77 L882.06 425.82 L879.56 427.32 L874.56 427.52 M878.06 427.52 L878.66 428.32 L881.16 429.62 L882.06 430.82 L882.06 436.12 L879.56 437.27 L879.26 437.92 L872.66 437.92 L869.56 434.62 M907.68 418.62 L920.58 418.62 M919.78 418.92 L911.93 438.02 M937.04 438.02 L937.04 418.62 M937.04 418.62 L934.84 418.92 L926.74 430.42 L926.74 432.82 L940.49 432.82" fill="none" stroke="#000" stroke-width="1.00" stroke-linecap="butt" stroke-linejoin="miter" shape-rendering="crispEdges"/>
<rect x="894" y="468" width="2" height="2" fill="#000" shape-rendering="crispEdges"/>
<path d="M850.50 453.54 L853.60 450.04 L859.25 450.04 L861.75 451.34 L863.00 453.19 L863.00 457.24 L860.50 458.74 L855.50 458.94 M859.00 458.94 L859.60 459.74 L862.10 461.04 L863.00 462.24 L863.00 467.54 L860.50 468.69 L860.20 469.34 L853.60 469.34 L850.50 466.04 M869.56 453.54 L872.66 450.04 L878.31 450.04 L880.81 451.34 L882.06 453.19 L882.06 457.24 L879.56 458.74 L874.56 458.94 M878.06 458.94 L878.66 459.74 L881.16 461.04 L882.06 462.24 L882.06 467.54 L879.56 468.69 L879.26 469.34 L872.66 469.34 L869.56 466.04 M907.68 450.04 L920.58 450.04 M919.78 450.34 L911.93 469.44 M926.74 453.84 L929.84 450.14 L937.04 450.14 L940.14 453.34 L940.14 458.64 L926.74 466.14 L926.74 469.44 L940.49 469.44" fill="none" stroke="#000" stroke-width="1.00" stroke-linecap="butt" stroke-linejoin="miter" shape-rendering="crispEdges"/>
<rect x="894" y="500" width="2" height="2" fill="#000" shape-rendering="crispEdges"/>
<path d="M850.50 484.96 L853.60 481.46 L859.25 481.46 L861.75 482.76 L863.00 484.61 L863.00 488.66 L860.50 490.16 L855.50 490.36 M859.00 490.36 L859.60 491.16 L862.10 492.46 L863.00 493.66 L863.00 498.96 L860.50 500.11 L860.20 500.76 L853.60 500.76 L850.50 497.46 M869.56 484.96 L872.66 481.46 L878.31 481.46 L880.81 482.76 L882.06 484.61 L882.06 488.66 L879.56 490.16 L874.56 490.36 M878.06 490.36 L878.66 491.16 L881.16 492.46 L882.06 493.66 L882.06 498.96 L879.56 500.11 L879.26 500.76 L872.66 500.76 L869.56 497.46 M907.68 481.46 L920.58 481.46 M919.78 481.76 L911.93 500.86 M930.74 481.56 L936.04 481.56 L939.74 486.36 L939.74 496.86 L936.04 500.86 L930.74 500.86 L926.94 496.86 L926.94 486.36 L930.74 481.56 M939.94 481.36 L926.74 501.06" fill="none" stroke="#000" stroke-width="1.00" stroke-linecap="butt" stroke-linejoin="miter" shape-rendering="crispEdges"/>
<rect x="894" y="531" width="2" height="2" fill="#000" shape-rendering="crispEdges"/>
<path d="M850.50 516.38 L853.60 512.88 L859.25 512.88 L861.75 514.18 L863.00 516.03 L863.00 520.08 L860.50 521.58 L855.50 521.78 M859.00 521.78 L859.60 522.58 L862.10 523.88 L863.00 525.08 L863.00 530.38 L860.50 531.53 L860.20 532.18 L853.60 532.18 L850.50 528.88 M869.56 516.38 L872.66 512.88 L878.31 512.88 L880.81 514.18 L882.06 516.03 L882.06 520.08 L879.56 521.58 L874.56 521.78 M878.06 521.78 L878.66 522.58 L881.16 523.88 L882.06 525.08 L882.06 530.38 L879.56 531.53 L879.26 532.18 L872.66 532.18 L869.56 528.88 M915.18 512.88 L907.68 520.18 L907.68 529.28 L911.68 532.08 L917.43 532.08 L920.88 529.28 L920.88 525.28 L917.08 521.28 L911.68 521.28 L907.68 524.98 M930.04 513.03 L937.54 513.03 M930.04 513.03 L927.24 516.18 L927.24 520.18 L927.54 520.88 L929.74 522.08 L937.54 522.08 M937.54 513.03 L939.14 516.18 L939.14 520.18 L937.84 521.78 M929.74 522.08 L927.24 524.88 L927.24 530.18 L927.54 530.88 L930.04 532.08 L937.54 532.08 M937.84 522.38 L939.14 524.88 L939.14 530.18 L937.54 532.08" fill="none" stroke="#000" stroke-width="1.00" stroke-linecap="butt" stroke-linejoin="miter" shape-rendering="crispEdges"/>
<rect x="894" y="563" width="2" height="2" fill="#000" shape-rendering="crispEdges"/>
<path d="M850.50 547.80 L853.60 544.30 L859.25 544.30 L861.75 545.60 L863.00 547.45 L863.00 551.50 L860.50 553.00 L855.50 553.20 M859.00 553.20 L859.60 554.00 L862.10 555.30 L863.00 556.50 L863.00 561.80 L860.50 562.95 L860.20 563.60 L853.60 563.60 L850.50 560.30 M869.56 547.80 L872.66 544.30 L878.31 544.30 L880.81 545.60 L882.06 547.45 L882.06 551.50 L879.56 553.00 L874.56 553.20 M878.06 553.20 L878.66 554.00 L881.16 555.30 L882.06 556.50 L882.06 561.80 L879.56 562.95 L879.26 563.60 L872.66 563.60 L869.56 560.30 M915.18 544.30 L907.68 551.60 L907.68 560.70 L911.68 563.50 L917.43 563.50 L920.88 560.70 L920.88 556.70 L917.08 552.70 L911.68 552.70 L907.68 556.40 M934.24 544.30 L926.74 551.60 L926.74 560.70 L930.74 563.50 L936.49 563.50 L939.94 560.70 L939.94 556.70 L936.14 552.70 L930.74 552.70 L926.74 556.40" fill="none" stroke="#000" stroke-width="1.00" stroke-linecap="butt" stroke-linejoin="miter" shape-rendering="crispEdges"/>
<rect x="894" y="594" width="2" height="2" fill="#000" shape-rendering="crispEdges"/>
<path d="M850.50 579.22 L853.60 575.72 L859.25 575.72 L861.75 577.02 L863.00 578.87 L863.00 582.92 L860.50 584.42 L855.50 584.62 M859.00 584.62 L859.60 585.42 L862.10 586.72 L863.00 587.92 L863.00 593.22 L860.50 594.37 L860.20 595.02 L853.60 595.02 L850.50 591.72 M869.56 579.22 L872.66 575.72 L878.31 575.72 L880.81 577.02 L882.06 578.87 L882.06 582.92 L879.56 584.42 L874.56 584.62 M878.06 584.62 L878.66 585.42 L881.16 586.72 L882.06 587.92 L882.06 593.22 L879.56 594.37 L879.26 595.02 L872.66 595.02 L869.56 591.72 M915.18 575.72 L907.68 583.02 L907.68 592.12 L911.68 594.92 L917.43 594.92 L920.88 592.12 L920.88 588.12 L917.08 584.12 L911.68 584.12 L907.68 587.82 M937.04 595.12 L937.04 575.72 M937.04 575.72 L934.84 576.02 L926.74 587.52 L926.74 589.92 L940.49 589.92" fill="none" stroke="#000" stroke-width="1.00" stroke-linecap="butt" stroke-linejoin="miter" shape-rendering="crispEdges"/>
<rect x="894" y="625" width="2" height="2" fill="#000" shape-rendering="crispEdges"/>
<path d="M850.50 610.64 L853.60 607.14 L859.25 607.14 L861.75 608.44 L863.00 610.29 L863.00 614.34 L860.50 615.84 L855.50 616.04 M859.00 616.04 L859.60 616.84 L862.10 618.14 L863.00 619.34 L863.00 624.64 L860.50 625.79 L860.20 626.44 L853.60 626.44 L850.50 623.14 M869.56 610.64 L872.66 607.14 L878.31 607.14 L880.81 608.44 L882.06 610.29 L882.06 614.34 L879.56 615.84 L874.56 616.04 M878.06 616.04 L878.66 616.84 L881.16 618.14 L882.06 619.34 L882.06 624.64 L879.56 625.79 L879.26 626.44 L872.66 626.44 L869.56 623.14 M915.18 607.14 L907.68 614.44 L907.68 623.54 L911.68 626.34 L917.43 626.34 L920.88 623.54 L920.88 619.54 L917.08 615.54 L911.68 615.54 L907.68 619.24 M926.74 610.94 L929.84 607.24 L937.04 607.24 L940.14 610.44 L940.14 615.74 L926.74 623.24 L926.74 626.54 L940.49 626.54" fill="none" stroke="#000" stroke-width="1.00" stroke-linecap="butt" stroke-linejoin="miter" shape-rendering="crispEdges"/>
<rect x="894" y="657" width="2" height="2" fill="#000" shape-rendering="crispEdges"/>
<path d="M850.50 642.06 L853.60 638.56 L859.25 638.56 L861.75 639.86 L863.00 641.71 L863.00 645.76 L860.50 647.26 L855.50 647.46 M859.00 647.46 L859.60 648.26 L862.10 649.56 L863.00 650.76 L863.00 656.06 L860.50 657.21 L860.20 657.86 L853.60 657.86 L850.50 654.56 M869.56 642.06 L872.66 638.56 L878.31 638.56 L880.81 639.86 L882.06 641.71 L882.06 645.76 L879.56 647.26 L874.56 647.46 M878.06 647.46 L878.66 648.26 L881.16 649.56 L882.06 650.76 L882.06 656.06 L879.56 657.21 L879.26 657.86 L872.66 657.86 L869.56 654.56 M915.18 638.56 L907.68 645.86 L907.68 654.96 L911.68 657.76 L917.43 657.76 L920.88 654.96 L920.88 650.96 L917.08 646.96 L911.68 646.96 L907.68 650.66 M930.74 638.66 L936.04 638.66 L939.74 643.46 L939.74 653.96 L936.04 657.96 L930.74 657.96 L926.94 653.96 L926.94 643.46 L930.74 638.66 M939.94 638.46 L926.74 658.16" fill="none" stroke="#000" stroke-width="1.00" stroke-linecap="butt" stroke-linejoin="miter" shape-rendering="crispEdges"/>
<rect x="894" y="688" width="2" height="2" fill="#000" shape-rendering="crispEdges"/>
<path d="M850.50 673.48 L853.60 669.98 L859.25 669.98 L861.75 671.28 L863.00 673.13 L863.00 677.18 L860.50 678.68 L855.50 678.88 M859.00 678.88 L859.60 679.68 L862.10 680.98 L863.00 682.18 L863.00 687.48 L860.50 688.63 L860.20 689.28 L853.60 689.28 L850.50 685.98 M869.56 673.48 L872.66 669.98 L878.31 669.98 L880.81 671.28 L882.06 673.13 L882.06 677.18 L879.56 678.68 L874.56 678.88 M878.06 678.88 L878.66 679.68 L881.16 680.98 L882.06 682.18 L882.06 687.48 L879.56 688.63 L879.26 689.28 L872.66 689.28 L869.56 685.98 M921.43 670.08 L907.98 670.08 L907.98 680.48 L909.08 678.88 L911.88 677.13 L917.18 677.13 L920.93 681.08 L920.93 686.38 L919.68 687.28 L917.48 689.08 L908.78 689.18 M930.74 669.88 L936.14 669.88 L939.84 673.68 L939.84 677.88 L936.44 681.38 L930.74 681.38 L926.74 677.88 L926.74 673.68 L930.74 669.88 M938.94 678.68 L938.94 683.38 L938.34 684.38 L933.64 689.38" fill="none" stroke="#000" stroke-width="1.00" stroke-linecap="butt" stroke-linejoin="miter" shape-rendering="crispEdges"/>
<rect x="894" y="720" width="2" height="2" fill="#000" shape-rendering="crispEdges"/>
<path d="M850.50 704.90 L853.60 701.40 L859.25 701.40 L861.75 702.70 L863.00 704.55 L863.00 708.60 L860.50 710.10 L855.50 710.30 M859.00 710.30 L859.60 711.10 L862.10 712.40 L863.00 713.60 L863.00 718.90 L860.50 720.05 L860.20 720.70 L853.60 720.70 L850.50 717.40 M869.56 704.90 L872.66 701.40 L878.31 701.40 L880.81 702.70 L882.06 704.55 L882.06 708.60 L879.56 710.10 L874.56 710.30 M878.06 710.30 L878.66 711.10 L881.16 712.40 L882.06 713.60 L882.06 718.90 L879.56 720.05 L879.26 720.70 L872.66 720.70 L869.56 717.40 M921.43 701.50 L907.98 701.50 L907.98 711.90 L909.08 710.30 L911.88 708.55 L917.18 708.55 L920.93 712.50 L920.93 717.80 L919.68 718.70 L917.48 720.50 L908.78 720.60 M926.74 701.40 L939.64 701.40 M938.84 701.70 L930.99 720.80" fill="none" stroke="#000" stroke-width="1.00" stroke-linecap="butt" stroke-linejoin="miter" shape-rendering="crispEdges"/>
<rect x="894" y="751" width="2" height="2" fill="#000" shape-rendering="crispEdges"/>
<path d="M850.50 736.32 L853.60 732.82 L859.25 732.82 L861.75 734.12 L863.00 735.97 L863.00 740.02 L860.50 741.52 L855.50 741.72 M859.00 741.72 L859.60 742.52 L862.10 743.82 L863.00 745.02 L863.00 750.32 L860.50 751.47 L860.20 752.12 L853.60 752.12 L850.50 748.82 M869.56 736.32 L872.66 732.82 L878.31 732.82 L880.81 734.12 L882.06 735.97 L882.06 740.02 L879.56 741.52 L874.56 741.72 M878.06 741.72 L878.66 742.52 L881.16 743.82 L882.06 745.02 L882.06 750.32 L879.56 751.47 L879.26 752.12 L872.66 752.12 L869.56 748.82 M921.43 732.92 L907.98 732.92 L907.98 743.32 L909.08 741.72 L911.88 739.97 L917.18 739.97 L920.93 743.92 L920.93 749.22 L919.68 750.12 L917.48 751.92 L908.78 752.02 M940.49 732.92 L927.04 732.92 L927.04 743.32 L928.14 741.72 L930.94 739.97 L936.24 739.97 L939.99 743.92 L939.99 749.22 L938.74 750.12 L936.54 751.92 L927.84 752.02" fill="none" stroke="#000" stroke-width="1.00" stroke-linecap="butt" stroke-linejoin="miter" shape-rendering="crispEdges"/>
<rect x="894" y="783" width="2" height="2" fill="#000" shape-rendering="crispEdges"/>
<path d="M850.50 767.74 L853.60 764.24 L859.25 764.24 L861.75 765.54 L863.00 767.39 L863.00 771.44 L860.50 772.94 L855.50 773.14 M859.00 773.14 L859.60 773.94 L862.10 775.24 L863.00 776.44 L863.00 781.74 L860.50 782.89 L860.20 783.54 L853.60 783.54 L850.50 780.24 M869.56 767.74 L872.66 764.24 L878.31 764.24 L880.81 765.54 L882.06 767.39 L882.06 771.44 L879.56 772.94 L874.56 773.14 M878.06 773.14 L878.66 773.94 L881.16 775.24 L882.06 776.44 L882.06 781.74 L879.56 782.89 L879.26 783.54 L872.66 783.54 L869.56 780.24 M921.43 764.34 L907.98 764.34 L907.98 774.74 L909.08 773.14 L911.88 771.39 L917.18 771.39 L920.93 775.34 L920.93 780.64 L919.68 781.54 L917.48 783.34 L908.78 783.44 M926.74 767.74 L929.84 764.24 L935.49 764.24 L937.99 765.54 L939.24 767.39 L939.24 771.44 L936.74 772.94 L931.74 773.14 M935.24 773.14 L935.84 773.94 L938.34 775.24 L939.24 776.44 L939.24 781.74 L936.74 782.89 L936.44 783.54 L929.84 783.54 L926.74 780.24" fill="none" stroke="#000" stroke-width="1.00" stroke-linecap="butt" stroke-linejoin="miter" shape-rendering="crispEdges"/>
<rect x="894" y="814" width="2" height="2" fill="#000" shape-rendering="crispEdges"/>
<path d="M850.50 799.16 L853.60 795.66 L859.25 795.66 L861.75 796.96 L863.00 798.81 L863.00 802.86 L860.50 804.36 L855.50 804.56 M859.00 804.56 L859.60 805.36 L862.10 806.66 L863.00 807.86 L863.00 813.16 L860.50 814.31 L860.20 814.96 L853.60 814.96 L850.50 811.66 M869.56 799.16 L872.66 795.66 L878.31 795.66 L880.81 796.96 L882.06 798.81 L882.06 802.86 L879.56 804.36 L874.56 804.56 M878.06 804.56 L878.66 805.36 L881.16 806.66 L882.06 807.86 L882.06 813.16 L879.56 814.31 L879.26 814.96 L872.66 814.96 L869.56 811.66 M921.43 795.76 L907.98 795.76 L907.98 806.16 L909.08 804.56 L911.88 802.81 L917.18 802.81 L920.93 806.76 L920.93 812.06 L919.68 812.96 L917.48 814.76 L908.78 814.86 M934.04 815.06 L934.04 795.46 M934.04 796.16 L931.44 796.86 L928.64 799.96" fill="none" stroke="#000" stroke-width="1.00" stroke-linecap="butt" stroke-linejoin="miter" shape-rendering="crispEdges"/>
<rect x="261" y="117" width="2" height="2" fill="#000" shape-rendering="crispEdges"/>
<rect x="496" y="130" width="2" height="2" fill="#000" shape-rendering="crispEdges"/>
<rect x="603" y="117" width="2" height="2" fill="#000" shape-rendering="crispEdges"/>
<rect x="639" y="117" width="2" height="2" fill="#000" shape-rendering="crispEdges"/>
<path d="M250.20 116.80 L248.50 113.40 L241.70 113.40 L238.60 116.50 L238.60 119.30 L241.70 122.40 L248.30 122.40 L250.05 125.60 L250.05 128.40 L248.50 131.50 L241.70 131.50 L238.50 128.10 M260.63 122.25 L262.08 122.25 L262.08 131.80 M285.16 121.00 L277.66 121.00 L274.56 124.30 L274.56 128.10 L277.66 131.50 L282.06 131.50 L285.16 128.40 M285.16 121.00 L285.16 134.60 L282.36 136.50 L277.66 136.50 L274.36 134.30 M292.39 121.00 L292.39 131.80 M292.39 121.00 L301.99 121.00 L303.89 123.40 L303.89 131.80 M297.99 121.00 L297.99 131.80 M312.32 121.00 L318.32 121.00 L319.82 124.00 L320.42 128.40 L323.32 131.50 M319.82 125.60 L313.32 125.60 L310.67 128.10 L310.92 129.60 L313.62 131.50 L317.02 131.50 L320.42 128.40 M328.45 134.50 L341.45 134.50 M351.88 114.60 L351.88 130.25 L352.98 131.50 L356.08 131.50 L357.38 130.25 M348.38 121.50 L356.38 121.50 M364.76 113.10 L364.76 131.80 M364.76 124.00 L367.51 121.00 L373.21 121.00 L374.91 124.00 L374.91 131.80 M382.54 125.60 L393.24 125.60 L393.24 124.00 L391.34 121.00 L385.74 121.00 L382.54 124.00 L382.54 128.70 L385.74 131.50 L391.04 131.50 L393.24 129.30 M405.97 114.60 L405.97 130.25 L407.07 131.50 L410.17 131.50 L411.47 130.25 M402.47 121.50 L410.47 121.50 M420.50 121.00 L426.50 121.00 L428.00 124.00 L428.60 128.40 L431.50 131.50 M428.00 125.60 L421.50 125.60 L418.85 128.10 L419.10 129.60 L421.80 131.50 L425.20 131.50 L428.60 128.40 M437.23 120.60 L448.53 120.60 M437.23 126.50 L448.53 126.50 M454.66 116.76 L457.59 113.26 L464.39 113.26 L467.32 116.29 L467.32 121.29 L454.66 128.38 L454.66 131.50 L467.65 131.50 M485.68 113.26 L472.97 113.26 L472.97 123.09 L474.01 121.58 L476.66 119.92 L481.67 119.92 L485.21 123.66 L485.21 128.66 L484.03 129.52 L481.95 131.22 L473.73 131.31 M521.74 113.26 L509.03 113.26 L509.03 123.09 L510.07 121.58 L512.72 119.92 L517.73 119.92 L521.27 123.66 L521.27 128.66 L520.09 129.52 L518.01 131.22 L509.79 131.31 M556.71 116.80 L555.01 113.40 L548.21 113.40 L545.11 116.50 L545.11 119.30 L548.21 122.40 L554.81 122.40 L556.56 125.60 L556.56 128.40 L555.01 131.50 L548.21 131.50 L545.01 128.10 M564.74 121.00 L570.74 121.00 L572.24 124.00 L572.84 128.40 L575.74 131.50 M572.24 125.60 L565.74 125.60 L563.09 128.10 L563.34 129.60 L566.04 131.50 L569.44 131.50 L572.84 128.40 M584.37 113.25 L586.77 114.60 L586.87 130.25 L588.27 131.80 M603.20 122.25 L604.65 122.25 L604.65 131.80 M617.18 121.00 L617.18 131.80 M617.18 124.00 L619.93 121.00 L625.13 121.00 L626.83 124.00 L626.83 131.80 M639.26 122.25 L640.71 122.25 L640.71 131.80 M658.39 114.60 L658.39 130.25 L659.49 131.50 L662.59 131.50 L663.89 130.25 M654.89 121.50 L662.89 121.50 M670.62 121.00 L676.92 131.50 M682.02 121.00 L673.77 136.60" fill="none" stroke="#000" stroke-width="1.00" stroke-linecap="butt" stroke-linejoin="miter" shape-rendering="crispEdges"/>
<rect x="311" y="874" width="2" height="2" fill="#000" shape-rendering="crispEdges"/>
<rect x="311" y="878" width="2" height="2" fill="#000" shape-rendering="crispEdges"/>
<rect x="365" y="874" width="2" height="2" fill="#000" shape-rendering="crispEdges"/>
<rect x="365" y="878" width="2" height="2" fill="#000" shape-rendering="crispEdges"/>
<path d="M276.80 881.50 L276.80 862.98 M276.80 863.64 L274.34 864.30 L271.70 867.23 M287.93 866.76 L290.86 863.26 L297.66 863.26 L300.59 866.29 L300.59 871.29 L287.93 878.38 L287.93 881.50 L300.92 881.50 M327.77 863.26 L332.78 863.26 L336.28 867.80 L336.28 877.72 L332.78 881.50 L327.77 881.50 L324.18 877.72 L324.18 867.80 L327.77 863.26 M336.46 863.07 L323.99 881.69 M345.80 863.26 L350.81 863.26 L354.31 867.80 L354.31 877.72 L350.81 881.50 L345.80 881.50 L342.21 877.72 L342.21 867.80 L345.80 863.26 M354.49 863.07 L342.02 881.69 M381.86 863.26 L386.87 863.26 L390.37 867.80 L390.37 877.72 L386.87 881.50 L381.86 881.50 L378.27 877.72 L378.27 867.80 L381.86 863.26 M390.55 863.07 L378.08 881.69 M399.89 863.26 L404.90 863.26 L408.40 867.80 L408.40 877.72 L404.90 881.50 L399.89 881.50 L396.30 877.72 L396.30 867.80 L399.89 863.26 M408.58 863.07 L396.11 881.69 M414.14 863.50 L426.04 863.50 L414.74 881.50 M414.14 881.50 L426.04 881.50 M490.04 863.07 L495.14 863.07 L498.64 866.66 L498.64 870.63 L495.43 873.94 L490.04 873.94 L486.26 870.63 L486.26 866.66 L490.04 863.07 M497.79 871.39 L497.79 875.83 L497.22 876.77 L492.78 881.50 M522.82 881.80 L526.32 863.70 L526.32 863.50 L530.32 863.50 L530.32 863.70 L534.12 881.80 M523.82 874.30 L532.82 874.30 M540.75 871.20 L540.75 878.70 L543.75 881.50 L548.10 881.50 L550.85 878.70 M550.85 871.20 L550.85 881.80 M569.18 871.00 L561.68 871.00 L558.58 874.30 L558.58 878.10 L561.68 881.50 L566.08 881.50 L569.18 878.40 M569.18 871.00 L569.18 884.60 L566.38 886.50 L561.68 886.50 L558.38 884.30 M594.44 866.76 L597.37 863.26 L604.17 863.26 L607.10 866.29 L607.10 871.29 L594.44 878.38 L594.44 881.50 L607.43 881.50 M616.25 863.26 L621.26 863.26 L624.75 867.80 L624.75 877.72 L621.26 881.50 L616.25 881.50 L612.66 877.72 L612.66 867.80 L616.25 863.26 M624.94 863.07 L612.47 881.69 M634.28 863.26 L639.29 863.26 L642.78 867.80 L642.78 877.72 L639.29 881.50 L634.28 881.50 L630.69 877.72 L630.69 867.80 L634.28 863.26 M642.97 863.07 L630.50 881.69 M655.62 863.17 L648.53 870.07 L648.53 878.66 L652.31 881.31 L657.74 881.31 L661.00 878.66 L661.00 874.88 L657.41 871.11 L652.31 871.11 L648.53 874.60" fill="none" stroke="#000" stroke-width="1.00" stroke-linecap="butt" stroke-linejoin="miter" shape-rendering="crispEdges"/>
<polygon points="228.12,187.09 230.25,187.09 230.25,188.67 229.38,189.98 228.12,189.98" fill="#000"/>
<path d="M153.26 199.80 L153.26 186.96 M153.26 187.42 L151.64 187.88 L149.89 189.91 M161.50 189.58 L163.44 187.16 L167.94 187.16 L169.88 189.25 L169.88 192.73 L161.50 197.64 L161.50 199.80 L170.09 199.80 M174.30 189.58 L176.24 187.16 L180.74 187.16 L182.67 189.25 L182.67 192.73 L174.30 197.64 L174.30 199.80 L182.89 199.80 M206.34 199.80 L206.34 187.09 M206.34 187.09 L204.96 187.29 L199.90 194.82 L199.90 196.39 L208.49 196.39 M214.76 187.19 L219.45 187.19 M214.76 187.19 L213.01 189.25 L213.01 191.87 L213.20 192.33 L214.57 193.12 L219.45 193.12 M219.45 187.19 L220.45 189.25 L220.45 191.87 L219.64 192.92 M214.57 193.12 L213.01 194.95 L213.01 198.42 L213.20 198.88 L214.76 199.67 L219.45 199.67 M219.64 193.32 L220.45 194.95 L220.45 198.42 L219.45 199.67 M237.43 187.36 L239.61 199.80 L241.74 193.25 L243.86 199.80 L246.05 187.36" fill="none" stroke="#000" stroke-width="1.00" stroke-linecap="butt" stroke-linejoin="miter" shape-rendering="crispEdges"/>
<polygon points="357.12,187.09 359.25,187.09 359.25,188.67 358.38,189.98 357.12,189.98" fill="#000"/>
<path d="M282.26 199.80 L282.26 186.96 M282.26 187.42 L280.64 187.88 L278.89 189.91 M290.50 189.58 L292.44 187.16 L296.94 187.16 L298.88 189.25 L298.88 192.73 L290.50 197.64 L290.50 199.80 L299.09 199.80 M303.30 189.58 L305.24 187.16 L309.74 187.16 L311.68 189.25 L311.68 192.73 L303.30 197.64 L303.30 199.80 L311.89 199.80 M328.90 189.39 L330.84 187.09 L334.37 187.09 L335.93 187.94 L336.71 189.16 L336.71 191.81 L335.15 192.79 L332.02 192.92 M334.21 192.92 L334.59 193.45 L336.15 194.30 L336.71 195.08 L336.71 198.56 L335.15 199.31 L334.96 199.73 L330.84 199.73 L328.90 197.57 M346.39 187.09 L341.70 191.87 L341.70 197.84 L344.20 199.67 L347.79 199.67 L349.95 197.84 L349.95 195.22 L347.57 192.59 L344.20 192.59 L341.70 195.02 M366.43 187.36 L368.61 199.80 L370.74 193.25 L372.86 199.80 L375.05 187.36" fill="none" stroke="#000" stroke-width="1.00" stroke-linecap="butt" stroke-linejoin="miter" shape-rendering="crispEdges"/>
<polygon points="486.12,187.09 488.25,187.09 488.25,188.67 487.38,189.98 486.12,189.98" fill="#000"/>
<path d="M411.26 199.80 L411.26 186.96 M411.26 187.42 L409.64 187.88 L407.89 189.91 M419.50 189.58 L421.44 187.16 L425.94 187.16 L427.88 189.25 L427.88 192.73 L419.50 197.64 L419.50 199.80 L428.09 199.80 M432.30 189.58 L434.24 187.16 L438.74 187.16 L440.68 189.25 L440.68 192.73 L432.30 197.64 L432.30 199.80 L440.89 199.80 M457.90 189.58 L459.84 187.16 L464.34 187.16 L466.27 189.25 L466.27 192.73 L457.90 197.64 L457.90 199.80 L466.49 199.80 M477.14 199.80 L477.14 187.09 M477.14 187.09 L475.76 187.29 L470.70 194.82 L470.70 196.39 L479.29 196.39 M495.43 187.36 L497.61 199.80 L499.74 193.25 L501.86 199.80 L504.05 187.36" fill="none" stroke="#000" stroke-width="1.00" stroke-linecap="butt" stroke-linejoin="miter" shape-rendering="crispEdges"/>
<polygon points="615.12,187.09 617.25,187.09 617.25,188.67 616.38,189.98 615.12,189.98" fill="#000"/>
<path d="M540.26 199.80 L540.26 186.96 M540.26 187.42 L538.64 187.88 L536.89 189.91 M548.50 189.58 L550.44 187.16 L554.94 187.16 L556.88 189.25 L556.88 192.73 L548.50 197.64 L548.50 199.80 L557.09 199.80 M561.30 189.58 L563.24 187.16 L567.74 187.16 L569.68 189.25 L569.68 192.73 L561.30 197.64 L561.30 199.80 L569.89 199.80 M591.46 199.80 L591.46 186.96 M591.46 187.42 L589.84 187.88 L588.09 189.91 M599.70 189.58 L601.64 187.16 L606.14 187.16 L608.08 189.25 L608.08 192.73 L599.70 197.64 L599.70 199.80 L608.29 199.80 M624.43 187.36 L626.61 199.80 L628.74 193.25 L630.86 199.80 L633.05 187.36" fill="none" stroke="#000" stroke-width="1.00" stroke-linecap="butt" stroke-linejoin="miter" shape-rendering="crispEdges"/>
<path d="M694.26 199.80 L694.26 186.96 M694.26 187.42 L692.64 187.88 L690.89 189.91 M702.50 189.58 L704.44 187.16 L708.94 187.16 L710.88 189.25 L710.88 192.73 L702.50 197.64 L702.50 199.80 L711.09 199.80 M715.30 189.58 L717.24 187.16 L721.74 187.16 L723.68 189.25 L723.68 192.73 L715.30 197.64 L715.30 199.80 L723.89 199.80 M727.23 187.36 L729.41 199.80 L731.54 193.25 L733.66 199.80 L735.85 187.36" fill="none" stroke="#000" stroke-width="1.00" stroke-linecap="butt" stroke-linejoin="miter" shape-rendering="crispEdges"/>
<polygon points="140.57,358.19 142.70,358.19 142.70,359.76 141.82,361.07 140.57,361.07" fill="#000"/>
<path d="M74.70 360.49 L76.64 358.19 L80.17 358.19 L81.73 359.04 L82.51 360.26 L82.51 362.91 L80.95 363.89 L77.82 364.02 M80.01 364.02 L80.39 364.55 L81.95 365.40 L82.51 366.18 L82.51 369.66 L80.95 370.41 L80.76 370.83 L76.64 370.83 L74.70 368.67 M87.35 358.19 L95.41 358.19 M94.91 358.39 L90.01 370.90 M117.21 370.90 L117.21 358.06 M117.21 358.52 L115.59 358.98 L113.84 361.01 M125.30 360.68 L127.24 358.26 L131.74 358.26 L133.67 360.35 L133.67 363.83 L125.30 368.74 L125.30 370.90 L133.89 370.90 M150.79 370.90 L150.79 358.26 L159.10 370.90 L159.10 358.26" fill="none" stroke="#000" stroke-width="1.00" stroke-linecap="butt" stroke-linejoin="miter" shape-rendering="crispEdges"/>
<path d="M125.30 521.49 L127.24 519.19 L130.77 519.19 L132.33 520.04 L133.11 521.26 L133.11 523.91 L131.55 524.89 L128.43 525.02 M130.61 525.02 L130.99 525.55 L132.55 526.40 L133.11 527.18 L133.11 530.66 L131.55 531.41 L131.36 531.83 L127.24 531.83 L125.30 529.67 M137.95 519.19 L146.01 519.19 M145.51 519.39 L140.61 531.90 M150.79 531.90 L150.79 519.26 L159.10 531.90 L159.10 519.26" fill="none" stroke="#000" stroke-width="1.00" stroke-linecap="butt" stroke-linejoin="miter" shape-rendering="crispEdges"/>
<polygon points="140.57,681.19 142.70,681.19 142.70,682.76 141.82,684.07 140.57,684.07" fill="#000"/>
<path d="M74.70 683.49 L76.64 681.19 L80.17 681.19 L81.73 682.04 L82.51 683.26 L82.51 685.91 L80.95 686.89 L77.82 687.02 M80.01 687.02 L80.39 687.55 L81.95 688.40 L82.51 689.18 L82.51 692.66 L80.95 693.41 L80.76 693.83 L76.64 693.83 L74.70 691.67 M92.04 681.19 L87.35 685.97 L87.35 691.93 L89.85 693.77 L93.44 693.77 L95.60 691.93 L95.60 689.31 L93.22 686.69 L89.85 686.69 L87.35 689.12 M119.09 693.90 L119.09 681.19 M119.09 681.19 L117.71 681.39 L112.65 688.92 L112.65 690.49 L121.24 690.49 M127.36 681.29 L132.05 681.29 M127.36 681.29 L125.61 683.35 L125.61 685.97 L125.80 686.43 L127.17 687.22 L132.05 687.22 M132.05 681.29 L133.05 683.35 L133.05 685.97 L132.24 687.02 M127.17 687.22 L125.61 689.05 L125.61 692.52 L125.80 692.98 L127.36 693.77 L132.05 693.77 M132.24 687.42 L133.05 689.05 L133.05 692.52 L132.05 693.77 M150.79 693.90 L150.79 681.26 L159.10 693.90 L159.10 681.26" fill="none" stroke="#000" stroke-width="1.00" stroke-linecap="butt" stroke-linejoin="miter" shape-rendering="crispEdges"/>
</svg>
</body></html>
